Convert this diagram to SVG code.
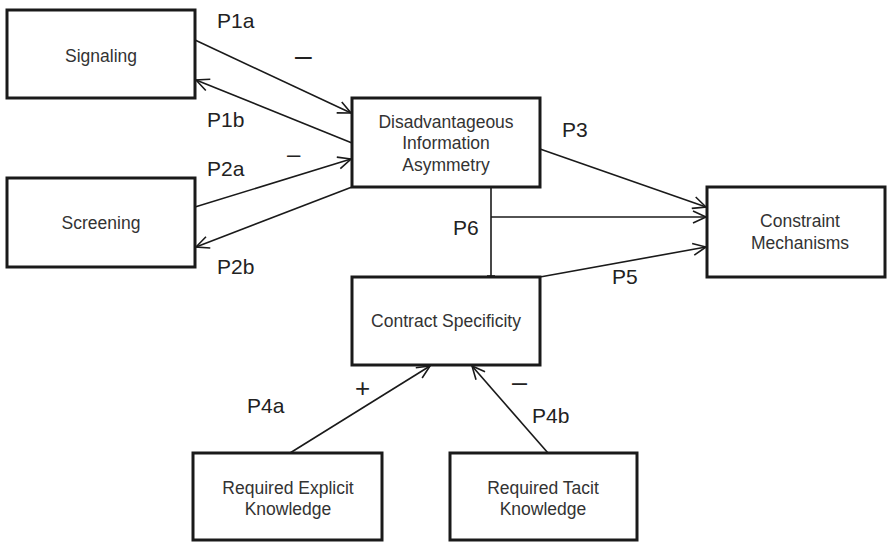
<svg xmlns="http://www.w3.org/2000/svg" width="887" height="543" viewBox="0 0 887 543">
<defs>
<style>
.box{fill:#fff;stroke:#1a1a1a;stroke-width:3}
.t{font-family:"Liberation Sans",Arial,sans-serif;font-size:17.5px;fill:#333;text-anchor:middle}
.lbl{font-family:"Liberation Sans",Arial,sans-serif;font-size:21px;fill:#222}
.c{stroke:#1a1a1a;stroke-width:1.6;fill:none}
.a{marker-end:url(#arr)}
</style>
<marker id="arr" markerUnits="userSpaceOnUse" markerWidth="16" markerHeight="14" viewBox="0 0 16 14" refX="14" refY="7" orient="auto">
<path d="M1,1 L14,7 L1,13" fill="none" stroke="#1a1a1a" stroke-width="1.6"/>
</marker>
</defs>
<rect width="887" height="543" fill="#fff"/>
<g id="connectors">
<line class="c a" x1="195" y1="40" x2="351" y2="113"/>
<line class="c a" x1="352" y1="143" x2="196" y2="80"/>
<line class="c a" x1="195" y1="207" x2="351" y2="159"/>
<line class="c a" x1="352" y1="187" x2="196" y2="247"/>
<line class="c a" x1="540" y1="149" x2="706" y2="207"/>
<line class="c" x1="491" y1="187" x2="491" y2="277"/>
<line class="c" x1="487" y1="276" x2="495" y2="276"/>
<line class="c a" x1="491" y1="217" x2="706" y2="217"/>
<line class="c a" x1="540" y1="277" x2="706" y2="247"/>
<line class="c a" x1="290" y1="453" x2="430" y2="366"/>
<line class="c a" x1="548" y1="453" x2="472" y2="366"/>
<text class="lbl" x="217" y="28">P1a</text>
<text class="lbl" x="295" y="66" style="font-size:30px">–</text>
<text class="lbl" x="207" y="127">P1b</text>
<text class="lbl" x="207" y="176">P2a</text>
<text class="lbl" x="287" y="162" style="font-size:24px">–</text>
<text class="lbl" x="217" y="274">P2b</text>
<text class="lbl" x="562" y="137">P3</text>
<text class="lbl" x="453" y="235">P6</text>
<text class="lbl" x="612" y="284">P5</text>
<text class="lbl" x="355" y="397" style="font-size:26px">+</text>
<text class="lbl" x="247" y="413">P4a</text>
<text class="lbl" x="512" y="391" style="font-size:27px">–</text>
<text class="lbl" x="532" y="423">P4b</text>
</g>
<g id="signaling">
<rect class="box" x="7" y="10" width="188" height="88"/>
<text class="t" x="101" y="62">Signaling</text>
</g>
<g id="screening">
<rect class="box" x="7" y="178" width="188" height="89"/>
<text class="t" x="101" y="229">Screening</text>
</g>
<g id="asymmetry">
<rect class="box" x="352" y="98" width="188" height="89"/>
<text class="t" x="446" y="128">Disadvantageous</text>
<text class="t" x="446" y="149">Information</text>
<text class="t" x="446" y="171">Asymmetry</text>
</g>
<g id="constraint">
<rect class="box" x="707" y="187" width="178" height="90"/>
<text class="t" x="800" y="227">Constraint</text>
<text class="t" x="800" y="249">Mechanisms</text>
</g>
<g id="contract">
<rect class="box" x="352" y="277" width="188" height="88"/>
<text class="t" x="446" y="327">Contract Specificity</text>
</g>
<g id="explicit">
<rect class="box" x="193" y="453" width="189" height="87"/>
<text class="t" x="288" y="494">Required Explicit</text>
<text class="t" x="288" y="515">Knowledge</text>
</g>
<g id="tacit">
<rect class="box" x="450" y="453" width="187" height="87"/>
<text class="t" x="543" y="494">Required Tacit</text>
<text class="t" x="543" y="515">Knowledge</text>
</g>
</svg>
